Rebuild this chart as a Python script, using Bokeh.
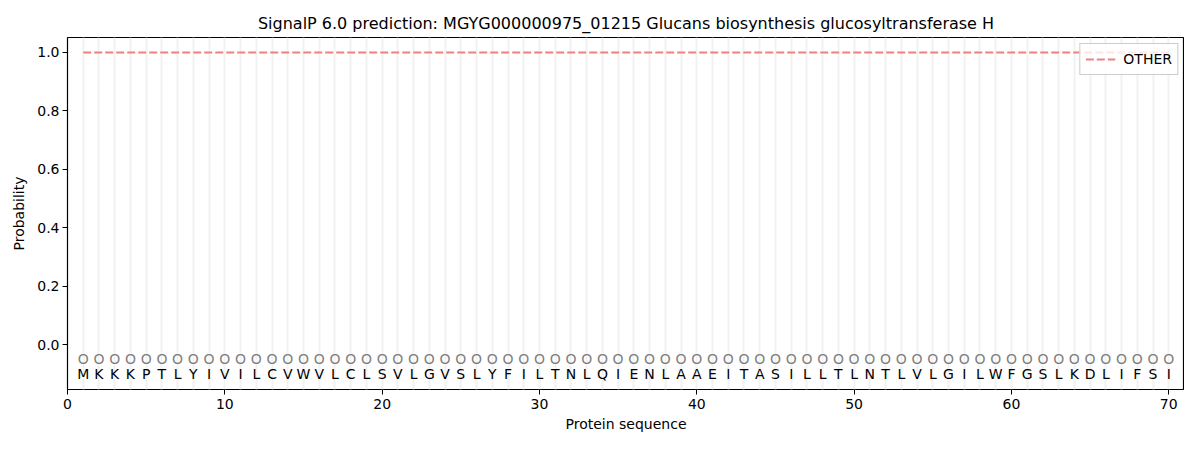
from bokeh.plotting import figure
from bokeh.models import ColumnDataSource, Legend, LegendItem, FixedTicker, Range1d
from bokeh.core.properties import value
from bokeh.embed import file_html
from bokeh.resources import INLINE

sequence = list("MKKKPTLYIVILCVWVLCLSVLGVSLYFILTNLQIENLAAEITASILLTLNTLVLGILWFGSLKDLIFSI")
positions = list(range(1, len(sequence) + 1))
other_prob = [1.0] * len(sequence)
pred_labels = ["O"] * len(sequence)
x_ticks = [0, 10, 20, 30, 40, 50, 60, 70]
y_ticks = [0.0, 0.2, 0.4, 0.6, 0.8, 1.0]

FONT = "DejaVu Sans"

p = figure(width=1184, height=434, output_backend="svg", toolbar_location=None,
           x_range=Range1d(0, 71), y_range=Range1d(-0.153, 1.051),
           min_border_left=67, min_border_right=0, min_border_top=37, min_border_bottom=42,
           title="SignalP 6.0 prediction: MGYG000000975_01215 Glucans biosynthesis glucosyltransferase H")
p.title.text_font = FONT
p.title.text_font_size = "16px"
p.title.text_font_style = "normal"
p.title.align = "center"
p.title.text_color = "black"

p.xgrid.visible = False
p.ygrid.visible = False
p.outline_line_color = "black"
p.outline_line_width = 1.2

src = ColumnDataSource(dict(x=positions, y=other_prob, aa=sequence, lab=pred_labels,
                            ylab=[-0.05] * len(sequence), yaa=[-0.1] * len(sequence)))

p.vspan(x="x", source=src, line_color="#f2f2f2", line_width=2)

line = p.line("x", "y", source=src, line_color="#f08080", line_width=2, line_dash="8 3")

p.text("x", "ylab", text="lab", source=src, text_align="center", text_baseline="middle",
       text_font=value(FONT), text_font_size="14px", text_color="#808080")
p.text("x", "yaa", text="aa", source=src, text_align="center", text_baseline="middle",
       text_font=value(FONT), text_font_size="14px", text_color="black")

for ax in (p.xaxis[0], p.yaxis[0]):
    ax.axis_label_text_font = FONT
    ax.axis_label_text_font_size = "14px"
    ax.axis_label_text_font_style = "normal"
    ax.axis_label_text_color = "black"
    ax.major_label_text_font = FONT
    ax.major_label_text_font_size = "14px"
    ax.minor_tick_line_color = None
    ax.major_tick_out = 5
    ax.major_tick_in = 0
    ax.major_tick_line_color = "black"
    ax.axis_line_color = None
    ax.major_label_text_color = "black"
    ax.major_label_standoff = 3

p.xaxis.axis_label = "Protein sequence"
p.yaxis.axis_label = "Probability"
p.xaxis.ticker = FixedTicker(ticks=x_ticks)
p.yaxis.ticker = FixedTicker(ticks=y_ticks)
p.yaxis.major_label_overrides = {t: f"{t:.1f}" for t in y_ticks}
p.xaxis.major_label_standoff = 4
p.xaxis.axis_label_standoff = 4
p.yaxis.axis_label_standoff = 7

legend = Legend(items=[LegendItem(label="OTHER", renderers=[line])], location="top_right",
                label_text_font=FONT, label_text_font_size="14px", label_text_color="black",
                border_line_color="#cccccc", border_line_alpha=1.0,
                background_fill_alpha=0.8, margin=6, padding=5, spacing=2,
                glyph_width=30, label_standoff=8)
p.add_layout(legend)

open("out.html", "w").write(file_html(p, INLINE))
